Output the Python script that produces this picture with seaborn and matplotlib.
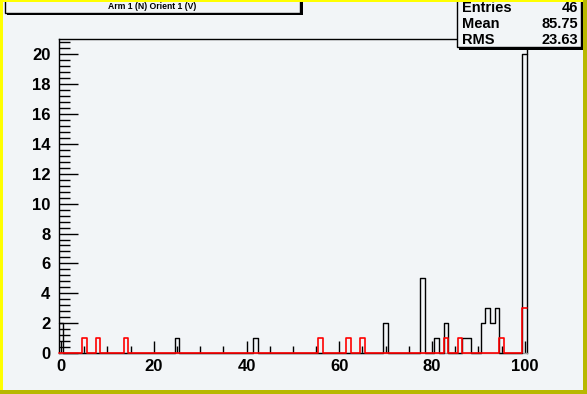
import numpy as np
import pandas as pd
import matplotlib
matplotlib.use("Agg")
import matplotlib.pyplot as plt
from matplotlib.patches import Rectangle
from matplotlib.ticker import MultipleLocator
import seaborn as sns

# ---- data ----
title = "Arm 1 (N) Orient 1 (V)"
black_bins = [0, 25, 42, 70, 78, 81, 83, 87, 88, 91, 92, 93, 94, 100]
black_counts = [2, 1, 1, 2, 5, 1, 2, 1, 1, 2, 3, 2, 3, 20]
red_bins = [5, 8, 14, 56, 62, 65, 83, 86, 95, 100]
red_counts = [1, 1, 1, 1, 1, 1, 1, 1, 1, 3]
stats_labels = ["Entries", "Mean", "RMS"]
stats_values = ["46", "85.75", "23.63"]
x_ticks = [0, 20, 40, 60, 80, 100]
y_ticks = [0, 2, 4, 6, 8, 10, 12, 14, 16, 18, 20]

bg = "#f2f5f7"
sns.set_theme(style="white")
plt.rcParams["font.family"] = ["Liberation Sans", "DejaVu Sans"]
plt.rcParams["font.weight"] = "bold"
plt.rcParams["text.color"] = "black"
plt.rcParams["xtick.labelcolor"] = "black"
plt.rcParams["ytick.labelcolor"] = "black"

fig = plt.figure(figsize=(5.87, 3.94), dpi=100, facecolor=bg)
ax = fig.add_axes([0.1, 0.104, 0.798, 0.796])
ax.set_facecolor(bg)

dfb = pd.DataFrame({"x": black_bins, "w": black_counts})
dfr = pd.DataFrame({"x": red_bins, "w": red_counts})
sns.histplot(data=dfb, x="x", weights="w", binwidth=1, binrange=(-0.5, 100.5),
             element="step", fill=False, color="black", linewidth=1.0, ax=ax)
n_black = len(ax.lines) + len(ax.patches)
sns.histplot(data=dfr, x="x", weights="w", binwidth=1, binrange=(-0.5, 100.5),
             element="step", fill=False, color="red", linewidth=1.2, ax=ax)
for i, art in enumerate(list(ax.lines) + list(ax.patches)):
    art.set_clip_on(False)
    art.set_zorder(3 if i < n_black else 4)

ax.set_xlim(-0.5, 100.5)
ax.set_ylim(0, 21)
ax.set_xlabel("")
ax.set_ylabel("")
ax.set_xticks(x_ticks)
ax.set_yticks(y_ticks)
ax.xaxis.set_minor_locator(MultipleLocator(5))
ax.yaxis.set_minor_locator(MultipleLocator(0.4))
ax.tick_params(axis="both", which="both", direction="in", color="black",
               labelcolor="black", bottom=True, left=True, top=False, right=False)
ax.tick_params(axis="x", which="major", length=9, width=1, pad=4, labelsize=12)
ax.tick_params(axis="x", which="minor", length=5, width=1)
ax.tick_params(axis="y", which="major", length=14, width=1, pad=6, labelsize=12)
ax.tick_params(axis="y", which="minor", length=8, width=1)
for lab in ax.get_xticklabels() + ax.get_yticklabels():
    lab.set_fontweight("bold")
for s in ax.spines.values():
    s.set_color("black")
    s.set_linewidth(1.0)
    s.set_zorder(2)
ax.spines["bottom"].set_color("#999999")

W, H = 587.0, 394.0
def fx(px):
    return px / W
def fy(py):
    return 1 - py / H

# title box with shadow
fig.patches.append(Rectangle((fx(7), fy(15)), fx(296), fy(0) - fy(15) + 0.01,
                             transform=fig.transFigure, facecolor="black",
                             edgecolor="none", zorder=5))
fig.patches.append(Rectangle((fx(5), fy(13)), fx(295), fy(0) - fy(13) + 0.01,
                             transform=fig.transFigure, facecolor=bg,
                             edgecolor="black", linewidth=1.0, zorder=6))
fig.text(fx(152), fy(6.5), title, ha="center", va="center", fontsize=6.2,
         fontweight="bold", color="black", zorder=7)

# stats box with shadow
fig.patches.append(Rectangle((fx(459), fy(50)), fx(126), fy(0) - fy(50) + 0.01,
                             transform=fig.transFigure, facecolor="black",
                             edgecolor="none", zorder=5))
fig.patches.append(Rectangle((fx(457), fy(47)), fx(124), fy(0) - fy(47) + 0.01,
                             transform=fig.transFigure, facecolor=bg,
                             edgecolor="black", linewidth=1.0, zorder=6))
for i, (lab, val) in enumerate(zip(stats_labels, stats_values)):
    yy = fy(8 + 16 * i)
    fig.text(fx(462), yy, lab, ha="left", va="center", fontsize=10.5,
             fontweight="bold", color="black", zorder=7)
    fig.text(fx(578), yy, val, ha="right", va="center", fontsize=10.5,
             fontweight="bold", color="black", zorder=7)

# canvas bevel border
fig.patches.append(Rectangle((0, 0), fx(3), 1, transform=fig.transFigure,
                             facecolor="#ffff00", edgecolor="none", zorder=8))
fig.patches.append(Rectangle((0, fy(2)), 1, fy(0) - fy(2), transform=fig.transFigure,
                             facecolor="#ffff00", edgecolor="none", zorder=8))
fig.patches.append(Rectangle((0, 0), 1, fy(390) - fy(394), transform=fig.transFigure,
                             facecolor="#b8b800", edgecolor="none", zorder=9))
fig.patches.append(Rectangle((fx(583), 0), fx(4), 1, transform=fig.transFigure,
                             facecolor="#b8b800", edgecolor="none", zorder=9))

fig.savefig("out.png", dpi=100, facecolor=bg)
